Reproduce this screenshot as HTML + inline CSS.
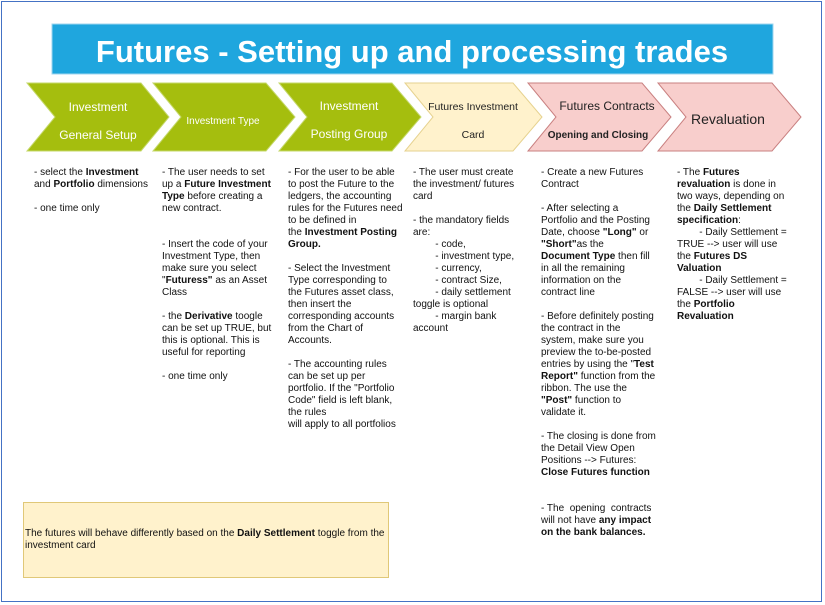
<!DOCTYPE html>
<html><head><meta charset="utf-8"><style>
body{margin:0;background:#fff;}
#w{position:relative;width:825px;height:605px;overflow:hidden;font-family:"Liberation Sans",Arial,sans-serif;}
.frame{position:absolute;left:1px;top:1px;width:821px;height:601px;border:1.5px solid #4472c4;box-sizing:border-box;}
.t{position:absolute;font-size:10px;line-height:12px;color:#111;white-space:pre;}
.t b{font-weight:bold;}
</style></head><body><div id="w">
<div class="frame"></div>
<svg width="825" height="605" style="position:absolute;left:0;top:0">
<rect x="52" y="24" width="721" height="50" fill="#1fa6de" stroke="#9fd6ef" stroke-width="1"/>
<text x="412" y="62" text-anchor="middle" font-family="Liberation Sans,Arial,sans-serif" font-weight="bold" font-size="31" fill="#fff">Futures - Setting up and processing trades</text>
<g stroke-width="1">
<polygon points="27,83 141,83 169,117 141,151 27,151 55,117" fill="#a5be0e" stroke="#c5d86a"/>
<polygon points="153,83 266,83 295,117 266,151 153,151 181,117" fill="#a5be0e" stroke="#c5d86a"/>
<polygon points="279,83 392,83 421,117 392,151 279,151 307,117" fill="#a5be0e" stroke="#c5d86a"/>
<polygon points="405,83 513,83 542,117 513,151 405,151 433,117" fill="#fff2cc" stroke="#e6d28f"/>
<polygon points="528,83 642,83 671,117 642,151 528,151 556,117" fill="#f8cecc" stroke="#c98080"/>
<polygon points="658,83 772,83 801,117 772,151 658,151 686,117" fill="#f8cecc" stroke="#c98080"/>
</g>
<g font-family="Liberation Sans,Arial,sans-serif" text-anchor="middle">
<text x="98" y="111" font-size="12" fill="#fff">Investment</text>
<text x="98" y="139" font-size="12" fill="#fff">General Setup</text>
<text x="223" y="124" font-size="10" fill="#fff">Investment Type</text>
<text x="349" y="110" font-size="12" fill="#fff">Investment</text>
<text x="349" y="138" font-size="12" fill="#fff">Posting Group</text>
<text x="473" y="110" font-size="10.5" fill="#222">Futures Investment</text>
<text x="473" y="138" font-size="10.5" fill="#222">Card</text>
<text x="607" y="110" font-size="12" fill="#222">Futures Contracts</text>
<text x="598" y="138" font-size="10" font-weight="bold" fill="#222">Opening and Closing</text>
<text x="728" y="124" font-size="14" fill="#222">Revaluation</text>
</g>
</svg>
<div class="t" style="left:34px;top:167px">- select the <b>Investment</b>
and <b>Portfolio</b> dimensions

- one time only</div>
<div class="t" style="left:162px;top:167px">- The user needs to set
up a <b>Future Investment
Type</b> before creating a
new contract.


- Insert the code of your
Investment Type, then
make sure you select
"<b>Futuress"</b> as an Asset
Class

- the <b>Derivative</b> toogle
can be set up TRUE, but
this is optional. This is
useful for reporting

- one time only</div>
<div class="t" style="left:288px;top:167px">- For the user to be able
to post the Future to the
ledgers, the accounting
rules for the Futures need
to be defined in
the <b>Investment Posting
Group.</b>

- Select the Investment
Type corresponding to
the Futures asset class,
then insert the
corresponding accounts
from the Chart of
Accounts.

- The accounting rules
can be set up per
portfolio. If the "Portfolio
Code" field is left blank,
the rules
will apply to all portfolios</div>
<div class="t" style="left:413px;top:167px">- The user must create
the investment/ futures
card

- the mandatory fields
are:
        - code,
        - investment type,
        - currency,
        - contract Size,
        - daily settlement
toggle is optional
        - margin bank
account</div>
<div class="t" style="left:541px;top:167px">- Create a new Futures
Contract

- After selecting a
Portfolio and the Posting
Date, choose <b>"Long"</b> or
<b>"Short"</b>as the
<b>Document Type</b> then fill
in all the remaining
information on the
contract line

- Before definitely posting
the contract in the
system, make sure you
preview the to-be-posted
entries by using the "<b>Test
Report"</b> function from the
ribbon. The use the
<b>"Post"</b> function to
validate it.

- The closing is done from
the Detail View Open
Positions --&gt; Futures:
<b>Close Futures function</b>


- The  opening  contracts
will not have <b>any impact
on the bank balances.</b></div>
<div class="t" style="left:677px;top:167px">- The <b>Futures
revaluation</b> is done in
two ways, depending on
the <b>Daily Settlement
specification</b>:
        - Daily Settlement =
TRUE --&gt; user will use
the <b>Futures DS
Valuation</b>
        - Daily Settlement =
FALSE --&gt; user will use
the <b>Portfolio
Revaluation</b></div>
<div style="position:absolute;left:23px;top:502px;width:366px;height:76px;background:#fff2cc;border:1px solid #e0c878;box-sizing:border-box"></div>
<div class="t" style="left:25px;top:528px">The futures will behave differently based on the <b>Daily Settlement</b> toggle from the
investment card</div>
</div></body></html>
